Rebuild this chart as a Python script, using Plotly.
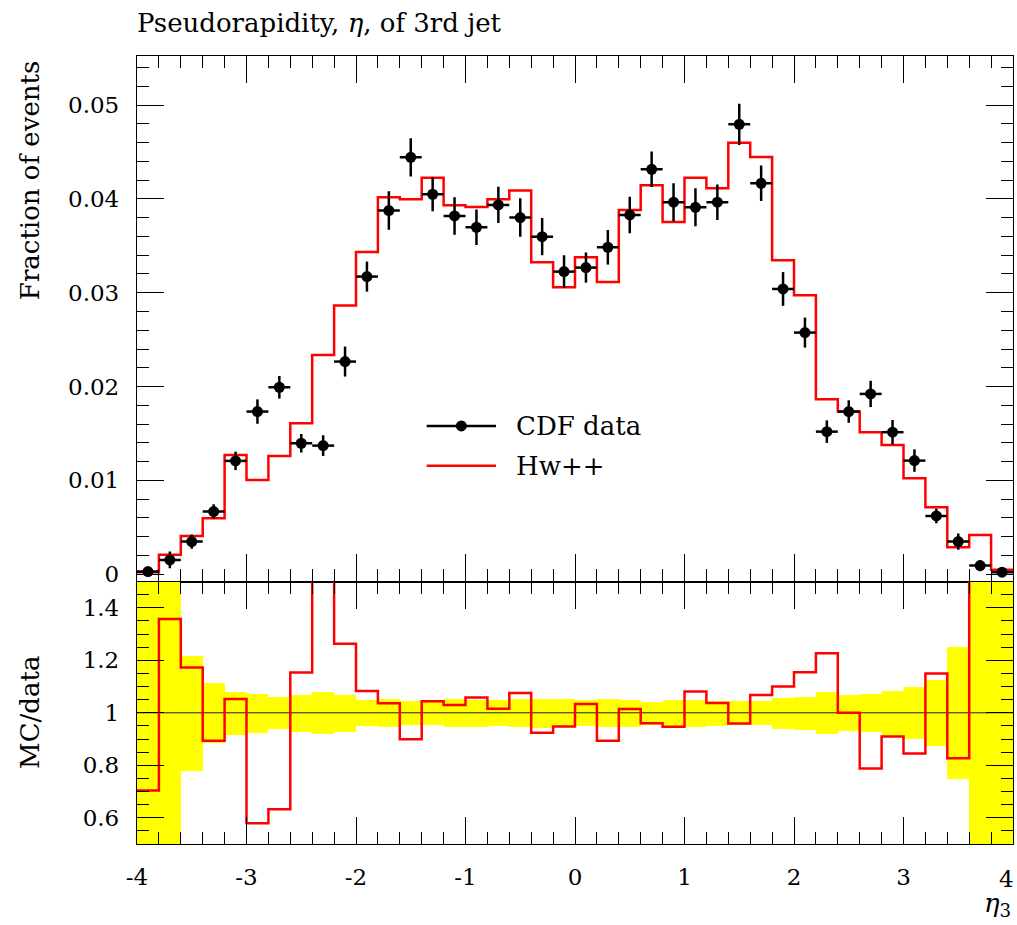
import plotly.graph_objects as go

# ---------------- data ----------------
eta_edges = [-4.0, -3.8, -3.6, -3.4, -3.2, -3.0, -2.8, -2.6, -2.4, -2.2, -2.0,
             -1.8, -1.6, -1.4, -1.2, -1.0, -0.8, -0.6, -0.4, -0.2, 0.0,
             0.2, 0.4, 0.6, 0.8, 1.0, 1.2, 1.4, 1.6, 1.8, 2.0,
             2.2, 2.4, 2.6, 2.8, 3.0, 3.2, 3.4, 3.6, 3.8, 4.0]

cdf_data = [0.00027, 0.00151, 0.00347, 0.00667, 0.01207, 0.01733, 0.01992, 0.01395, 0.01370, 0.02266,
            0.03172, 0.03876, 0.04444, 0.04050, 0.03819, 0.03698, 0.03936, 0.03801, 0.03598, 0.03225,
            0.03268, 0.03485, 0.03829, 0.04316, 0.03965, 0.03911, 0.03965, 0.04796, 0.04167, 0.03040,
            0.02575, 0.01519, 0.01733, 0.01921, 0.01513, 0.01210, 0.00620, 0.00347, 0.00091, 0.00020]

cdf_err = [0.00030, 0.00090, 0.00076, 0.00077, 0.00098, 0.00130, 0.00120, 0.00099, 0.00110, 0.00160,
           0.00160, 0.00205, 0.00204, 0.00182, 0.00200, 0.00189, 0.00193, 0.00205, 0.00198, 0.00174,
           0.00160, 0.00185, 0.00195, 0.00190, 0.00202, 0.00203, 0.00190, 0.00220, 0.00190, 0.00180,
           0.00160, 0.00120, 0.00120, 0.00140, 0.00130, 0.00120, 0.00078, 0.00087, 0.00060, 0.00030]

hwpp = [0.00019, 0.00205, 0.00407, 0.00596, 0.01271, 0.01004, 0.01260, 0.01609, 0.02337, 0.02863,
        0.03435, 0.04018, 0.03997, 0.04227, 0.03933, 0.03915, 0.03997, 0.04089, 0.03325, 0.03058,
        0.03378, 0.03115, 0.03883, 0.04146, 0.03755, 0.04227, 0.04114, 0.04600, 0.04448, 0.03346,
        0.02973, 0.01864, 0.01733, 0.01513, 0.01377, 0.01022, 0.00713, 0.00287, 0.00418, 0.00045]

upper_ticks = [0, 0.01, 0.02, 0.03, 0.04, 0.05]
upper_ticktext = ["0", "0.01", "0.02", "0.03", "0.04", "0.05"]
lower_ticks = [0.6, 0.8, 1.0, 1.2, 1.4]
lower_ticktext = ["0.6", "0.8", "1", "1.2", "1.4"]
x_ticks = [-4, -3, -2, -1, 0, 1, 2, 3, 4]
x_ticktext = ["-4", "-3", "-2", "-1", "0", "1", "2", "3", "4"]

# ---------------- derived ----------------
lo = eta_edges[:-1]
hi = eta_edges[1:]
centers = [(a + b) / 2 for a, b in zip(lo, hi)]
halfw = [(b - a) / 2 for a, b in zip(lo, hi)]
widths = [b - a for a, b in zip(lo, hi)]
ratio = [m / d for m, d in zip(hwpp, cdf_data)]
rel = [e / d for e, d in zip(cdf_err, cdf_data)]

FONT = "DejaVu Serif"
RED = "#ff0000"

fig = go.Figure()

# data band in ratio panel
fig.add_trace(go.Bar(
    x=centers, y=[2 * r for r in rel], base=[1 - r for r in rel], width=widths,
    marker=dict(color="#ffff00", line=dict(width=0)),
    xaxis="x2", yaxis="y2", showlegend=False, hoverinfo="skip"))

# reference line at 1
fig.add_trace(go.Scatter(
    x=[eta_edges[0], eta_edges[-1]], y=[1, 1], mode="lines",
    line=dict(color="#222222", width=1), xaxis="x2", yaxis="y2",
    showlegend=False, hoverinfo="skip"))

# ratio step line
fig.add_trace(go.Scatter(
    x=eta_edges, y=ratio + [ratio[-1]], mode="lines", line_shape="hv",
    line=dict(color=RED, width=2.5), xaxis="x2", yaxis="y2", showlegend=False))

# MC histogram
fig.add_trace(go.Scatter(
    x=eta_edges, y=hwpp + [hwpp[-1]], mode="lines", line_shape="hv",
    line=dict(color=RED, width=2.5), xaxis="x", yaxis="y", name="Hw++", showlegend=False))

# data points
fig.add_trace(go.Scatter(
    x=centers, y=cdf_data, mode="markers",
    marker=dict(color="black", size=11),
    error_x=dict(type="data", array=halfw, color="black", thickness=2.5, width=0),
    error_y=dict(type="data", array=cdf_err, color="black", thickness=2.5, width=0),
    xaxis="x", yaxis="y", name="CDF data", showlegend=False))

axis_common = dict(
    showline=True, linecolor="black", linewidth=1.3, mirror="ticks",
    ticks="inside", tickcolor="black", tickwidth=1.1, ticklen=27,
    showgrid=False, zeroline=False, automargin=False,
    tickfont=dict(family=FONT, size=23, color="black"),
)
minor_common = dict(ticks="inside", ticklen=12, tickcolor="black", tickwidth=1.1)

SPLIT = 0.333
TICKFONT = dict(family=FONT, size=23, color="black")

fig.update_layout(
    width=1017, height=925,
    margin=dict(l=137, r=4, t=56, b=81),
    paper_bgcolor="white", plot_bgcolor="white",
    bargap=0, barmode="overlay",
    showlegend=False,
    xaxis=dict(axis_common, domain=[0, 1], anchor="y", range=[-4, 4],
               tickmode="array", tickvals=x_ticks, showticklabels=False,
               matches="x2",
               minor=dict(minor_common, dtick=0.2, tick0=0)),
    yaxis=dict(axis_common, domain=[SPLIT, 1], anchor="x", range=[-0.0008, 0.05524],
               tickmode="array", tickvals=upper_ticks, ticktext=upper_ticktext,
               ticklabelstandoff=12,
               minor=dict(minor_common, dtick=0.002, tick0=0)),
    # last label (at the right frame edge) is placed separately so it stays inside the page
    xaxis2=dict(axis_common, domain=[0, 1], anchor="y2", range=[-4, 4],
                tickmode="array", tickvals=x_ticks[:-1], ticktext=x_ticktext[:-1],
                ticklabelstandoff=12,
                minor=dict(minor_common, dtick=0.2, tick0=0)),
    yaxis2=dict(axis_common, domain=[0, SPLIT], anchor="x2", range=[0.5, 1.5],
                tickmode="array", tickvals=lower_ticks, ticktext=lower_ticktext,
                ticklabelstandoff=12,
                minor=dict(minor_common, dtick=0.05, tick0=0)),
    title=dict(text="Pseudorapidity, <i>η</i>, of 3rd jet",
               font=dict(family=FONT, size=26, color="black"),
               x=137 / 1017, xanchor="left", xref="container",
               y=1 - 23 / 925, yanchor="middle", yref="container"),
)

# label of the right-edge tick
fig.add_annotation(text=x_ticktext[-1], xref="x2", yref="paper", x=x_ticks[-1], y=0,
                   xanchor="right", yanchor="top", xshift=3, yshift=-20,
                   showarrow=False, font=TICKFONT)

# axis titles
fig.add_annotation(text="Fraction of events", textangle=-90, xref="paper", yref="paper",
                   x=-0.122, y=1, xanchor="center", yanchor="top", yshift=-2,
                   showarrow=False, font=dict(family=FONT, size=26, color="black"))
fig.add_annotation(text="MC/data", textangle=-90, xref="paper", yref="paper",
                   x=-0.122, y=SPLIT / 2, xanchor="center", yanchor="middle",
                   showarrow=False, font=dict(family=FONT, size=26, color="black"))
fig.add_annotation(text="<i>η</i><sub>3</sub>", xref="paper", yref="paper",
                   x=1, y=-0.077, xanchor="right", yanchor="middle",
                   showarrow=False, font=dict(family=FONT, size=26, color="black"))

# legend (drawn by hand to mimic the original key)
LX0, LX1 = 0.3307, 0.4098
LXM = (LX0 + LX1) / 2
LY_DATA, LY_MC = 0.5305, 0.4801
fig.add_shape(type="line", xref="paper", yref="paper", x0=LX0, x1=LX1, y0=LY_DATA, y1=LY_DATA,
              line=dict(color="black", width=2.5))
fig.add_shape(type="circle", xref="paper", yref="paper", xsizemode="pixel", ysizemode="pixel",
              xanchor=LXM, yanchor=LY_DATA, x0=-5.5, x1=5.5, y0=-5.5, y1=5.5,
              fillcolor="black", line=dict(color="black", width=0))
fig.add_shape(type="line", xref="paper", yref="paper", x0=LX0, x1=LX1, y0=LY_MC, y1=LY_MC,
              line=dict(color=RED, width=2.5))
fig.add_annotation(text="CDF data", xref="paper", yref="paper", x=0.4304, y=LY_DATA,
                   xanchor="left", yanchor="middle", showarrow=False,
                   font=dict(family=FONT, size=26, color="black"))
fig.add_annotation(text="Hw++", xref="paper", yref="paper", x=0.4304, y=LY_MC,
                   xanchor="left", yanchor="middle", showarrow=False,
                   font=dict(family=FONT, size=26, color="black"))

fig.write_html("out.html", config={"displayModeBar": False},
               post_script="document.body.style.margin='0';document.body.style.overflow='hidden';")
